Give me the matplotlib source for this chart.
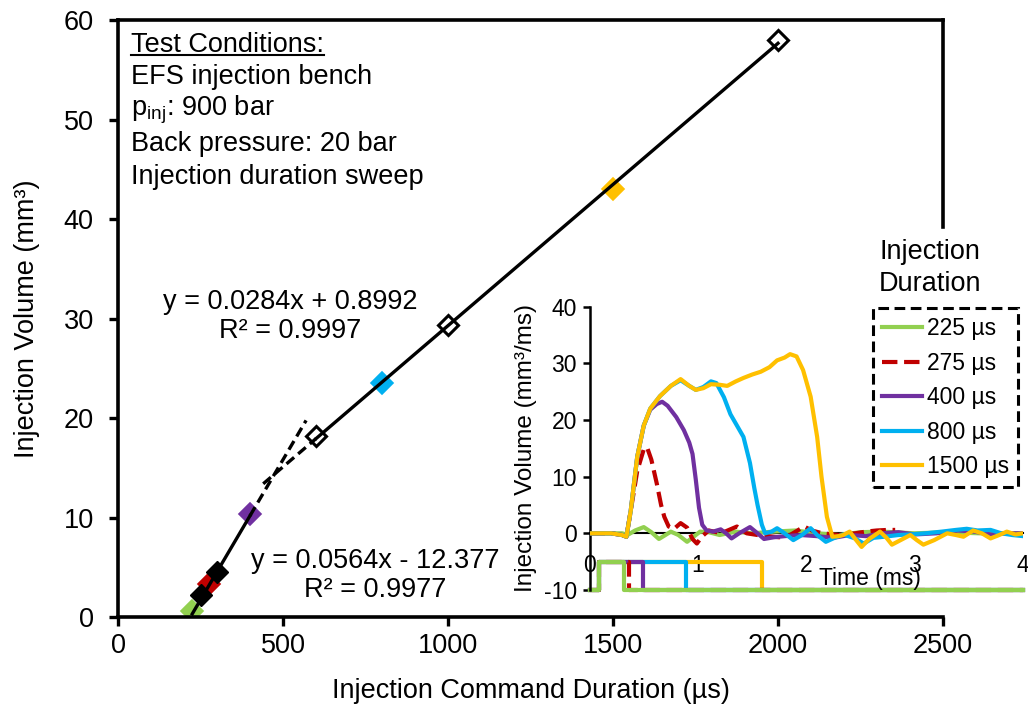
import numpy as np
import matplotlib
matplotlib.use("Agg")
import matplotlib.pyplot as plt
from matplotlib.lines import Line2D

plt.rcParams['font.family'] = ['Liberation Sans', 'DejaVu Sans']
plt.rcParams['mathtext.fontset'] = 'custom'
plt.rcParams['mathtext.rm'] = 'Liberation Sans'
plt.rcParams['mathtext.it'] = 'Liberation Sans:italic'
plt.rcParams['axes.unicode_minus'] = False

# ---- main chart data ----
open_x = [600, 1000, 2000]
open_y = [18.2, 29.4, 58.0]
black_x = [250, 300]
black_y = [2.2, 4.5]
color_x = [225, 275, 400, 800, 1500]
color_y = [0.6, 3.3, 10.4, 23.5, 43.0]
colors = ['#92D050', '#C00000', '#7030A0', '#00B0F0', '#FFC000']

# trendlines (slope, intercept) with solid / forecast ranges
hi_fit = (0.0284, 0.8992)
hi_solid = [600, 2000]
hi_dash = [440, 600]
lo_fit = (0.0564, -12.377)
lo_solid = [225, 400]
lo_dash = [400, 570]

# ---- inset data: rate traces ----
labels = ['225 µs', '275 µs', '400 µs', '800 µs', '1500 µs']

t_225 = [0, 0.30, 0.35, 0.42, 0.50, 0.57, 0.64, 0.70, 0.75, 0.82, 0.90, 0.96, 1.02,
         1.10, 1.20, 1.35, 1.50, 1.70, 1.90, 2.10, 2.30, 2.50, 2.70, 3.00, 3.30, 3.60, 4.0]
v_225 = [0, 0, -0.3, 0.5, 1.1, 0.2, -1.0, -0.3, 0.3, -0.3, -1.5, -0.6, 0.3,
         0.2, -0.3, 0.3, 0, 0.3, 0.5, 0, -0.3, 0.2, 0.3, 0, 0.2, 0, 0]

t_275 = [0, 0.20, 0.30, 0.34, 0.38, 0.44, 0.50, 0.53, 0.57, 0.62, 0.66, 0.69, 0.73,
         0.78, 0.84, 0.90, 0.95, 0.99, 1.04, 1.10, 1.17, 1.25, 1.36, 1.45, 1.55,
         1.65, 1.75, 1.85, 1.98, 2.05, 2.15, 2.30, 2.45, 2.55, 2.65, 2.75, 2.82]
v_275 = [0, 0, -0.3, -0.6, 4.0, 11.0, 14.8, 15.2, 13.0, 8.8, 5.0, 2.9, 1.2,
         0.8, 1.8, 1.0, -1.0, -1.8, -0.5, 0.5, 0.2, 0.3, 1.2, 0, -0.3,
         -0.5, -0.7, -0.3, 1.2, 0.5, 0, -0.3, 0, 0.3, 0.5, 0.6, 0.6]

t_400 = [0, 0.20, 0.30, 0.34, 0.38, 0.44, 0.50, 0.56, 0.62, 0.67, 0.72, 0.80, 0.87,
         0.92, 0.95, 0.98, 1.01, 1.04, 1.08, 1.14, 1.21, 1.26, 1.31, 1.38, 1.48,
         1.55, 1.61, 1.70, 1.80, 1.95, 2.10, 2.25, 2.40, 2.55, 2.70, 2.85, 3.00,
         3.20, 3.40, 3.55, 3.70, 3.85, 4.0]
v_400 = [0, 0, -0.3, -0.6, 4.0, 13.5, 19.0, 21.8, 22.8, 23.2, 22.5, 20.5, 18.2,
         16.0, 14.0, 9.5, 4.5, 1.5, 0.5, 0.3, 0.7, 0, -0.9, 0, 1.1,
         0, -1.0, -0.7, -0.5, -0.3, -0.5, -0.8, -0.3, -0.5, 0, 0.2, -0.2,
         0, 0.5, 0.3, -0.2, 0, 0]

t_800 = [0, 0.20, 0.30, 0.34, 0.38, 0.44, 0.50, 0.56, 0.65, 0.75, 0.84, 0.92, 0.98,
         1.05, 1.12, 1.17, 1.24, 1.30, 1.36, 1.42, 1.48, 1.52, 1.55, 1.59, 1.62,
         1.68, 1.73, 1.80, 1.88, 1.96, 2.04, 2.10, 2.18, 2.26, 2.34, 2.45, 2.53,
         2.62, 2.72, 2.85, 2.95, 3.10, 3.25, 3.38, 3.48, 3.58, 3.70, 3.80, 3.90, 4.0]
v_800 = [0, 0, -0.3, -0.6, 4.0, 13.5, 19.0, 22.0, 24.2, 26.0, 27.0, 26.0, 25.3,
         25.8, 26.8, 26.5, 24.0, 21.0, 19.0, 17.0, 12.4, 8.0, 5.0, 1.5, 0,
         0.3, 0.9, 0, -1.2, -0.3, 0.9, -0.3, -1.5, -0.8, -0.2, -0.9, -1.8,
         -0.8, -0.6, -0.3, -0.2, 0, 0.3, 0.6, 0.8, 0.5, 0.6, 0, -0.3, -0.5]

t_1500 = [0, 0.20, 0.30, 0.34, 0.38, 0.44, 0.50, 0.56, 0.65, 0.75, 0.84, 0.92, 0.98,
          1.05, 1.12, 1.20, 1.27, 1.35, 1.42, 1.50, 1.58, 1.66, 1.73, 1.80, 1.85,
          1.91, 1.97, 2.04, 2.10, 2.14, 2.19, 2.24, 2.30, 2.34, 2.40, 2.46, 2.51,
          2.58, 2.68, 2.74, 2.79, 2.87, 2.96, 3.02, 3.08, 3.18, 3.30, 3.38, 3.45,
          3.54, 3.62, 3.70, 3.78, 3.85, 3.93, 4.0]
v_1500 = [0, 0, -0.3, -0.6, 4.0, 13.5, 19.0, 22.0, 24.2, 26.0, 27.2, 26.0, 25.3,
          25.6, 26.3, 26.2, 26.0, 26.8, 27.4, 28.0, 28.5, 29.3, 30.5, 31.0, 31.6,
          31.2, 28.8, 24.1, 17.0, 10.0, 2.9, -0.6, -0.5, -0.3, 0.3, -1.2, -2.4,
          -1.0, 0.3, -0.8, -2.0, -1.2, -0.3, -1.2, -2.0, -1.2, 0, -0.3, -0.6,
          0.5, 0, -0.9, -0.3, 0.3, -0.2, 0]

traces_t = [t_225, t_275, t_400, t_800, t_1500]
traces_v = [v_225, v_275, v_400, v_800, v_1500]

# command signals (ms)
cmd_start = 0.09
cmd_dur = [0.225, 0.275, 0.40, 0.80, 1.50]
cmd_low, cmd_high = -10, -5

MAIN_FS = 19.5
IN_FS = 16.5

fig = plt.figure(figsize=(10.28, 7.17), dpi=100)
ax = fig.add_axes([0.1148, 0.1395, 0.8025, 0.832])

# colored markers (below trendlines)
for x, y, c in zip(color_x, color_y, colors):
    ax.plot(x, y, 'D', ms=11, color=c, mec=c, mew=1.2, zorder=2)
ax.plot(black_x, black_y, 'D', ms=11, color='black', ls='none', zorder=2)
ax.plot(open_x, open_y, 'D', ms=10.5, mfc='white', mec='black', mew=2.2,
        ls='none', zorder=2)

def fit_line(fit, rng):
    xs = np.array(rng, dtype=float)
    return xs, fit[0] * xs + fit[1]

for fit, rng, ls in [(hi_fit, hi_solid, '-'), (hi_fit, hi_dash, '--'),
                     (lo_fit, lo_solid, '-'), (lo_fit, lo_dash, '--')]:
    xs, ys = fit_line(fit, rng)
    if ls == '--':
        ax.plot(xs, ys, color='black', lw=2.4, ls='--', dashes=(3, 1.6), zorder=3)
    else:
        ax.plot(xs, ys, color='black', lw=2.4, zorder=3)

ax.set_xlim(0, 2500)
ax.set_ylim(0, 60)
ax.set_xticks(np.arange(0, 2501, 500))
ax.set_yticks(np.arange(0, 61, 10))
ax.tick_params(axis='both', labelsize=MAIN_FS, width=2.4, length=6.5, direction='out')
ax.tick_params(axis='y', pad=11)
ax.tick_params(axis='x', pad=5)
for s in ax.spines.values():
    s.set_linewidth(2.6)
ax.spines['right'].set_bounds(39.2, 60)
ax.set_xlabel('Injection Command Duration (µs)', fontsize=MAIN_FS)
ax.set_ylabel('Injection Volume (mm³)', fontsize=MAIN_FS)
ax.xaxis.set_label_coords(0.5, -0.102)
ax.yaxis.set_label_coords(-0.094, 0.5)

def px_y(ypx):
    return (617 - ypx) / 596.5

def px_x(xpx):
    return (xpx - 118) / 825.0

tkw = dict(transform=ax.transAxes, fontsize=MAIN_FS, va='center', ha='left')
tc = ax.text(px_x(131), px_y(45), 'Test Conditions:', **tkw)
ax.text(px_x(131), px_y(77), 'EFS injection bench', **tkw)
ax.text(px_x(131), px_y(110), r'p$_{\mathrm{inj}}$: 900 bar', **tkw)
ax.text(px_x(131), px_y(144), 'Back pressure: 20 bar', **tkw)
ax.text(px_x(131), px_y(177), 'Injection duration sweep', **tkw)

ax.text(px_x(290), px_y(317), 'y = 0.0284x + 0.8992\nR² = 0.9997', fontsize=MAIN_FS,
        transform=ax.transAxes, ha='center', va='center', linespacing=1.15)
ax.text(px_x(375), px_y(576), 'y = 0.0564x - 12.377\nR² = 0.9977', fontsize=MAIN_FS,
        transform=ax.transAxes, ha='center', va='center', linespacing=1.15)

# ---- inset ----
ax_in = fig.add_axes([0.5735, 0.1771, 0.4217, 0.3954])
ax_in.patch.set_alpha(0)

# command steps, green on top
for i in [4, 3, 2, 1, 0]:
    t_end = cmd_start + cmd_dur[i]
    xs = [0, cmd_start, cmd_start, t_end, t_end, 4]
    ys = [cmd_low, cmd_low, cmd_high, cmd_high, cmd_low, cmd_low]
    ax_in.plot(xs, ys, color=colors[i], lw=3, ls='--' if i == 1 else '-',
               clip_on=False, zorder=2 + (4 - i) * 0.1)

handles = []
for i in range(5):
    ls = '--' if i == 1 else '-'
    h, = ax_in.plot(traces_t[i], traces_v[i], color=colors[i], lw=3, ls=ls,
                    solid_joinstyle='round', zorder=3 + i * 0.1, label=labels[i])
    handles.append(h)

ax_in.set_xlim(0, 4)
ax_in.set_ylim(-10, 40)
ax_in.set_yticks(np.arange(-10, 41, 10))
ax_in.set_xticks(np.arange(0, 5, 1))
ax_in.spines['top'].set_visible(False)
ax_in.spines['right'].set_visible(False)
ax_in.spines['bottom'].set_position(('data', 0))
ax_in.spines['bottom'].set_linewidth(1.5)
ax_in.spines['bottom'].set_zorder(1)
ax_in.spines['left'].set_linewidth(1.8)
ax_in.tick_params(axis='y', labelsize=IN_FS, width=1.8, length=5, pad=4)
ax_in.tick_params(axis='x', labelsize=IN_FS, length=0, pad=15)
ax_in.set_ylabel('Injection Volume (mm³/ms)', fontsize=17.5)
ax_in.yaxis.set_label_coords(-0.121, 0.5)
ax_in.text(0.647, 0.042, 'Time (ms)', transform=ax_in.transAxes, fontsize=IN_FS,
           ha='center', va='center')

leg = ax_in.legend(handles=handles, loc='upper right', bbox_to_anchor=(0.9903, 0.5704),
                   bbox_transform=fig.transFigure, fontsize=IN_FS, frameon=True,
                   fancybox=False, handlelength=1.75, handletextpad=0.2,
                   labelspacing=0.5, borderpad=0.4, borderaxespad=0)
fr = leg.get_frame()
fr.set_edgecolor('black')
fr.set_linewidth(2.2)
fr.set_linestyle((0, (3.5, 1.8)))
fr.set_facecolor('white')
fr.set_alpha(1)
fig.text(930 / 1028, 1 - 268 / 717, 'Injection\nDuration', fontsize=MAIN_FS,
         ha='center', va='center', linespacing=1.28)

# underline the heading
fig.canvas.draw()
bb = tc.get_window_extent()
inv = fig.transFigure.inverted()
(x0, y0), (x1, _) = inv.transform([(bb.x0, bb.y0 + 3), (bb.x1, bb.y0 + 3)])
fig.add_artist(Line2D([x0, x1], [y0, y0], transform=fig.transFigure, color='black', lw=1.5))

fig.savefig('out.png', dpi=100)
